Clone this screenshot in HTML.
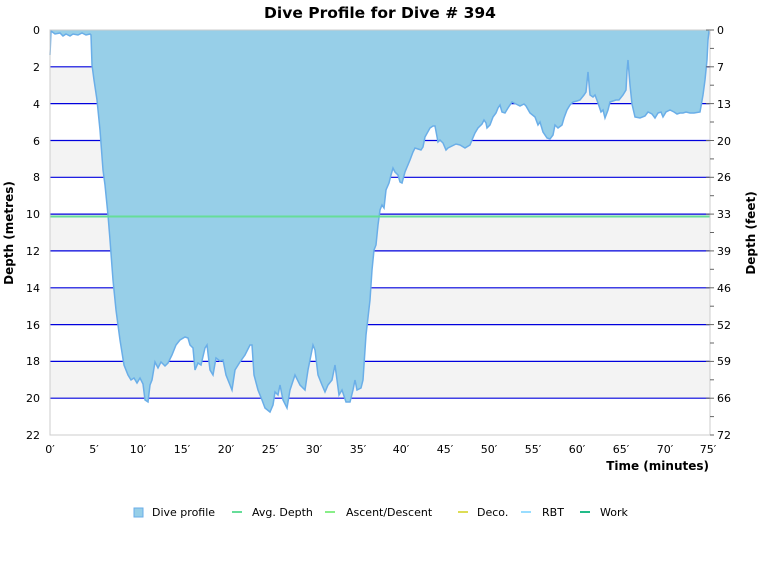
<!DOCTYPE html>
<html><head><meta charset="utf-8"><style>
body{margin:0;background:#fff;}
svg text{font-family:"DejaVu Sans","Liberation Sans",sans-serif;}
</style></head><body>
<svg width="760" height="580" viewBox="0 0 760 580" xmlns="http://www.w3.org/2000/svg">
<text x="380" y="18" text-anchor="middle" font-size="15.5" font-weight="bold" fill="#000">Dive Profile for Dive # 394</text>
<g fill="#f3f3f3">
<rect x="50" y="66.8" width="660" height="36.8"/>
<rect x="50" y="140.5" width="660" height="36.8"/>
<rect x="50" y="214.1" width="660" height="36.8"/>
<rect x="50" y="287.8" width="660" height="36.8"/>
<rect x="50" y="361.4" width="660" height="36.8"/>
</g>
<g stroke="#0000dd" stroke-width="1.2">
<line x1="50" y1="66.8" x2="710" y2="66.8"/>
<line x1="50" y1="103.6" x2="710" y2="103.6"/>
<line x1="50" y1="140.5" x2="710" y2="140.5"/>
<line x1="50" y1="177.3" x2="710" y2="177.3"/>
<line x1="50" y1="214.1" x2="710" y2="214.1"/>
<line x1="50" y1="250.9" x2="710" y2="250.9"/>
<line x1="50" y1="287.8" x2="710" y2="287.8"/>
<line x1="50" y1="324.6" x2="710" y2="324.6"/>
<line x1="50" y1="361.4" x2="710" y2="361.4"/>
<line x1="50" y1="398.2" x2="710" y2="398.2"/>
</g>
<path fill="#97cfe8" stroke="none" d="M50,30 L50,55 L51,31 L55,34 L60,33 L63,36 L66,34 L70,36 L73,34 L78,35 L82,33 L86,35 L90,34 L91,35 L92,65 L94,80 L97,100 L100,130 L103,170 L105,185 L108,215 L110,240 L113,280 L116,310 L120,340 L124,365 L128,375 L131,380 L134,378 L137,383 L140,378 L143,384 L145,400 L148,402 L150,385 L152,380 L155,362 L158,368 L161,362 L165,366 L168,363 L172,355 L176,345 L180,340 L185,337 L188,338 L190,345 L193,348 L195,370 L198,363 L201,365 L205,348 L207,345 L210,370 L213,375 L216,358 L220,361 L223,360 L226,375 L230,385 L232,390 L235,370 L240,362 L245,355 L250,345 L252,345 L254,375 L258,390 L262,400 L265,408 L270,412 L273,405 L275,392 L278,395 L280,385 L283,400 L287,408 L290,390 L295,375 L300,385 L305,390 L308,370 L313,345 L315,350 L318,375 L322,385 L325,392 L328,385 L332,380 L335,365 L337,380 L339,395 L342,390 L346,402 L350,402 L353,390 L355,380 L357,390 L361,388 L363,380 L366,335 L370,300 L372,270 L374,250 L376,245 L378,225 L380,210 L382,205 L384,208 L386,190 L389,183 L391,175 L393,168 L395,172 L398,175 L400,182 L402,183 L405,172 L410,160 L413,152 L415,148 L418,149 L421,150 L423,147 L425,137 L430,128 L433,126 L435,126 L438,142 L440,140 L443,143 L446,150 L448,148 L452,146 L456,144 L460,145 L465,148 L470,145 L472,140 L475,133 L478,128 L482,124 L484,120 L486,123 L487,128 L490,125 L493,117 L496,113 L498,108 L500,105 L502,112 L505,113 L508,108 L512,102 L516,104 L520,106 L524,104 L526,106 L530,113 L535,117 L538,125 L540,122 L543,132 L547,138 L550,139 L553,135 L555,125 L558,128 L562,125 L564,118 L567,110 L570,105 L573,102 L577,101 L580,100 L584,95 L586,92 L588,72 L590,95 L593,97 L595,95 L598,103 L601,112 L603,110 L605,118 L608,110 L610,102 L613,101 L616,100 L619,100 L623,95 L626,90 L627,71 L628,60 L630,85 L632,104 L635,117 L640,118 L645,116 L648,112 L652,114 L655,118 L658,113 L661,112 L663,117 L666,112 L670,110 L674,112 L677,114 L680,113 L683,113 L686,112 L690,113 L694,113 L700,112 L703,95 L705,80 L707,60 L708,40 L709,31 L709,30 Z"/>
<polyline fill="none" stroke="#6aaee8" stroke-width="1.5" points="50,55 51,31 55,34 60,33 63,36 66,34 70,36 73,34 78,35 82,33 86,35 90,34 91,35 92,65 94,80 97,100 100,130 103,170 105,185 108,215 110,240 113,280 116,310 120,340 124,365 128,375 131,380 134,378 137,383 140,378 143,384 145,400 148,402 150,385 152,380 155,362 158,368 161,362 165,366 168,363 172,355 176,345 180,340 185,337 188,338 190,345 193,348 195,370 198,363 201,365 205,348 207,345 210,370 213,375 216,358 220,361 223,360 226,375 230,385 232,390 235,370 240,362 245,355 250,345 252,345 254,375 258,390 262,400 265,408 270,412 273,405 275,392 278,395 280,385 283,400 287,408 290,390 295,375 300,385 305,390 308,370 313,345 315,350 318,375 322,385 325,392 328,385 332,380 335,365 337,380 339,395 342,390 346,402 350,402 353,390 355,380 357,390 361,388 363,380 366,335 370,300 372,270 374,250 376,245 378,225 380,210 382,205 384,208 386,190 389,183 391,175 393,168 395,172 398,175 400,182 402,183 405,172 410,160 413,152 415,148 418,149 421,150 423,147 425,137 430,128 433,126 435,126 438,142 440,140 443,143 446,150 448,148 452,146 456,144 460,145 465,148 470,145 472,140 475,133 478,128 482,124 484,120 486,123 487,128 490,125 493,117 496,113 498,108 500,105 502,112 505,113 508,108 512,102 516,104 520,106 524,104 526,106 530,113 535,117 538,125 540,122 543,132 547,138 550,139 553,135 555,125 558,128 562,125 564,118 567,110 570,105 573,102 577,101 580,100 584,95 586,92 588,72 590,95 593,97 595,95 598,103 601,112 603,110 605,118 608,110 610,102 613,101 616,100 619,100 623,95 626,90 627,71 628,60 630,85 632,104 635,117 640,118 645,116 648,112 652,114 655,118 658,113 661,112 663,117 666,112 670,110 674,112 677,114 680,113 683,113 686,112 690,113 694,113 700,112 703,95 705,80 707,60 708,40 709,31"/>
<line x1="50" y1="216.5" x2="710" y2="216.5" stroke="#66dd99" stroke-width="2"/>
<rect x="50" y="30" width="660" height="405" fill="none" stroke="#ccc" stroke-width="1"/>
<g font-size="11" fill="#000" text-anchor="end">
<text x="40" y="34">0</text><text x="40" y="71">2</text><text x="40" y="108">4</text><text x="40" y="145">6</text><text x="40" y="181">8</text><text x="40" y="218">10</text><text x="40" y="255">12</text><text x="40" y="292">14</text><text x="40" y="329">16</text><text x="40" y="365">18</text><text x="40" y="402">20</text><text x="40" y="439">22</text>
</g>
<g stroke="#666" stroke-width="1">
<line x1="706" y1="30" x2="714" y2="30"/><line x1="710" y1="48.4" x2="714" y2="48.4"/>
<line x1="706" y1="66.8" x2="714" y2="66.8"/><line x1="710" y1="85.2" x2="714" y2="85.2"/>
<line x1="706" y1="103.6" x2="714" y2="103.6"/><line x1="710" y1="122" x2="714" y2="122"/>
<line x1="706" y1="140.5" x2="714" y2="140.5"/><line x1="710" y1="158.9" x2="714" y2="158.9"/>
<line x1="706" y1="177.3" x2="714" y2="177.3"/><line x1="710" y1="195.7" x2="714" y2="195.7"/>
<line x1="706" y1="214.1" x2="714" y2="214.1"/><line x1="710" y1="232.5" x2="714" y2="232.5"/>
<line x1="706" y1="250.9" x2="714" y2="250.9"/><line x1="710" y1="269.3" x2="714" y2="269.3"/>
<line x1="706" y1="287.8" x2="714" y2="287.8"/><line x1="710" y1="306.2" x2="714" y2="306.2"/>
<line x1="706" y1="324.6" x2="714" y2="324.6"/><line x1="710" y1="343" x2="714" y2="343"/>
<line x1="706" y1="361.4" x2="714" y2="361.4"/><line x1="710" y1="379.8" x2="714" y2="379.8"/>
<line x1="706" y1="398.2" x2="714" y2="398.2"/><line x1="710" y1="416.6" x2="714" y2="416.6"/>
<line x1="710" y1="435" x2="714" y2="435"/>
</g>
<g font-size="11" fill="#000">
<text x="717" y="34">0</text><text x="717" y="71">7</text><text x="717" y="108">13</text><text x="717" y="145">20</text><text x="717" y="181">26</text><text x="717" y="218">33</text><text x="717" y="255">39</text><text x="717" y="292">46</text><text x="717" y="329">52</text><text x="717" y="365">59</text><text x="717" y="402">66</text><text x="717" y="439">72</text>
</g>
<g font-size="11" fill="#000" text-anchor="middle">
<text x="50" y="453">0′</text><text x="94" y="453">5′</text><text x="138" y="453">10′</text><text x="182" y="453">15′</text><text x="226" y="453">20′</text><text x="270" y="453">25′</text><text x="314" y="453">30′</text><text x="358" y="453">35′</text><text x="401" y="453">40′</text><text x="445" y="453">45′</text><text x="489" y="453">50′</text><text x="533" y="453">55′</text><text x="577" y="453">60′</text><text x="621" y="453">65′</text><text x="665" y="453">70′</text><text x="708" y="453">75′</text>
</g>
<text x="709" y="470" text-anchor="end" font-size="12" font-weight="bold">Time (minutes)</text>
<text transform="translate(13,233) rotate(-90)" text-anchor="middle" font-size="12" font-weight="bold">Depth (metres)</text>
<text transform="translate(755,233) rotate(-90)" text-anchor="middle" font-size="12" font-weight="bold">Depth (feet)</text>
<g font-size="11" fill="#000">
<rect x="134" y="508" width="9" height="9" fill="#97cfe8" stroke="#6aaee8"/><text x="152" y="516">Dive profile</text>
<line x1="232" y1="512" x2="242" y2="512" stroke="#66dd99" stroke-width="2"/><text x="252" y="516">Avg. Depth</text>
<line x1="325" y1="512" x2="335" y2="512" stroke="#88ee88" stroke-width="2"/><text x="346" y="516">Ascent/Descent</text>
<line x1="458" y1="512" x2="468" y2="512" stroke="#dddd55" stroke-width="2"/><text x="477" y="516">Deco.</text>
<line x1="521" y1="512" x2="531" y2="512" stroke="#99ddff" stroke-width="2"/><text x="542" y="516">RBT</text>
<line x1="580" y1="512" x2="590" y2="512" stroke="#22bb88" stroke-width="2"/><text x="600" y="516">Work</text>
</g>
</svg>
</body></html>
